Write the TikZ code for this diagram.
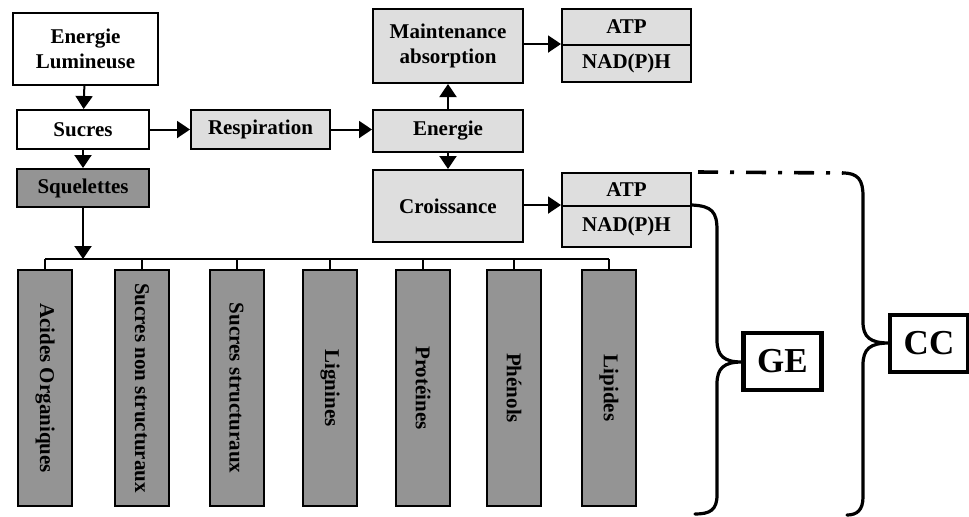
\documentclass[tikz,border=0pt]{standalone}
\usepackage{fontspec}
\setmainfont{Liberation Serif}
\usetikzlibrary{arrows.meta}

\tikzset{
  box/.style={draw, line width=1pt, inner sep=0pt, align=center,
    font=\bfseries\fontsize{10.5}{12.5}\selectfont},
  pale/.style={box, fill=black!13},
  dark/.style={box, fill=black!42},
  colonne/.style={dark, rotate=-90, minimum width=118pt, minimum height=27pt},
  sigle/.style={draw, line width=2.4pt, inner sep=0pt, fill=white,
    font=\bfseries\fontsize{17.5}{20}\selectfont, minimum width=39pt, minimum height=28.5pt},
  fleche/.style={line width=1pt, -{Triangle[length=6.5pt,width=8.5pt]}},
  accolade/.style={line width=1.6pt, line cap=round},
}

\begin{document}
\begin{tikzpicture}[x=0.5pt, y=-0.5pt]
    \useasboundingbox (0,0) rectangle (969,516);

    % Define the boxes on the left
    \node[box, minimum width=72.5pt, minimum height=36pt] (lumi) at (85.5,49) {Energie\\Lumineuse};
    \node[box, minimum width=66pt, minimum height=19.5pt] (sucres) at (83,129.5) {Sucres};
    \node[dark, minimum width=66pt, minimum height=19pt] (squel) at (83,188) {Squelettes};
    \node[pale, minimum width=69.5pt, minimum height=19.5pt] (resp) at (260.5,129.5) {Respiration};

    % Define the boxes in the middle
    \node[pale, minimum width=75pt, minimum height=37pt] (maint) at (448,46) {Maintenance\\absorption};
    \node[pale, minimum width=75pt, minimum height=21pt] (energie) at (448,131) {Energie};
    \node[pale, minimum width=75pt, minimum height=36pt] (croiss) at (448,206) {Croissance};

    % Define the ATP / NAD(P)H boxes
    \node[pale, minimum width=64.5pt, minimum height=18pt] (atpa) at (626.5,27) {ATP};
    \node[pale, minimum width=64.5pt, minimum height=18.5pt] (nada) at (626.5,63.5) {NAD(P)H};
    \node[pale, minimum width=64.5pt, minimum height=16.5pt] (atpb) at (626.5,189.5) {ATP};
    \node[pale, minimum width=64.5pt, minimum height=20.5pt] (nadb) at (626.5,226.5) {NAD(P)H};

    % Draw the arrows
    \draw[fleche] (lumi) -- (sucres);
    \draw[fleche] (sucres) -- (squel);
    \draw[fleche] (sucres.east) -- (sucres.east -| resp.west);
    \draw[fleche] (resp.east) -- (resp.east -| energie.west);
    \draw[fleche] (energie) -- (maint);
    \draw[fleche] (energie) -- (croiss);
    \draw[fleche] (maint.east |- nada.north) -- (nada.north west);
    \draw[fleche] (croiss.east |- nadb.north) -- (nadb.north west);

    % Draw the products
    \coordinate (busl) at (45,259);
    \coordinate (busr) at (609,259);
    \draw[line width=1pt] (busl) -- (busr);
    \draw[fleche] (squel.south) -- (squel.south |- busl);
    \foreach \x/\nom/\txt in {45/acides/Acides Organiques, 142/sucnon/Sucres non structuraux,
        236.5/sucstr/Sucres structuraux, 330/lign/Lignines, 423/prot/Protéines,
        514/phen/Phénols, 609/lip/Lipides} {
      \node[colonne] (\nom) at (\x,388) {\txt};
      \draw[line width=1pt] (\nom.west |- busl) -- (\nom.west);
    }

    % Draw the braces
    \draw[accolade] (nadb.north east) .. controls (712,206) and (717,212) .. (717,230)
      -- (717,340) .. controls (717,356) and (724,362) .. (742,362)
      .. controls (724,362) and (717,368) .. (717,384)
      -- (717,495) .. controls (717,510) and (710,514) .. (695,514);
    \draw[line width=1.8pt, dash pattern=on 10pt off 6pt on 2pt off 6pt]
      ([xshift=3pt]atpb.north east) -- (843,173);
    \draw[accolade] (843,173) .. controls (858,173) and (863,180) .. (863,196)
      -- (863,322) .. controls (863,337) and (870,343) .. (889,343)
      .. controls (870,343) and (863,349) .. (863,365)
      -- (863,497) .. controls (863,510) and (857,515) .. (847,515);

    % Place the labels GE and CC
    \node[sigle] (ge) at (782.5,361.5) {GE};
    \node[sigle] (cc) at (929,343.5) {CC};

\end{tikzpicture}
\end{document}
